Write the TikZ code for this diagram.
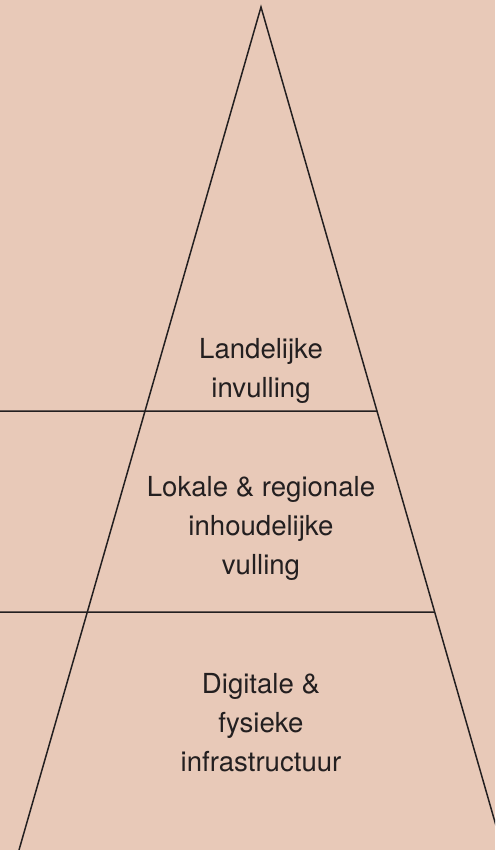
\documentclass[tikz,border=0pt]{standalone}
\usepackage{fontspec}
\setmainfont{TeX Gyre Heros}
\usetikzlibrary{calc}
\definecolor{peach}{RGB}{232,201,184}
\definecolor{inkgray}{RGB}{35,31,32}

\begin{document}
\begin{tikzpicture}[x=0.02cm, y=-0.02cm,
    every node/.style={font=\fontsize{15.7}{22.2}\selectfont, text=inkgray, align=center, inner sep=0pt},
    edge line/.style={draw=inkgray, line width=0.85pt}]
  \fill[peach] (0,0) rectangle (495,850);
  \clip (0,0) rectangle (495,850);
  % apex and the two feet of the pyramid
  \coordinate (top) at (261,7);
  \coordinate (bl) at (19,850);
  \coordinate (br) at (503,850);
  \draw[edge line] (bl) -- (top) -- (br);
  % layer borders, running out to the left edge
  \coordinate (l1) at (0,411);
  \coordinate (l2) at (0,612);
  \coordinate (r1) at ($(top)!404/843!(br)$);
  \coordinate (r2) at ($(top)!605/843!(br)$);
  \draw[edge line] (l1) -- (r1);
  \draw[edge line] (l2) -- (r2);
  % layer texts
  \node (land) at (261,371) {Landelijke\\invulling};
  \node (lokaal) at (261,528) {Lokale \& regionale\\inhoudelijke\\vulling};
  \node (infra) at (261,723) {Digitale \&\\fysieke\\infrastructuur};
\end{tikzpicture}
\end{document}
